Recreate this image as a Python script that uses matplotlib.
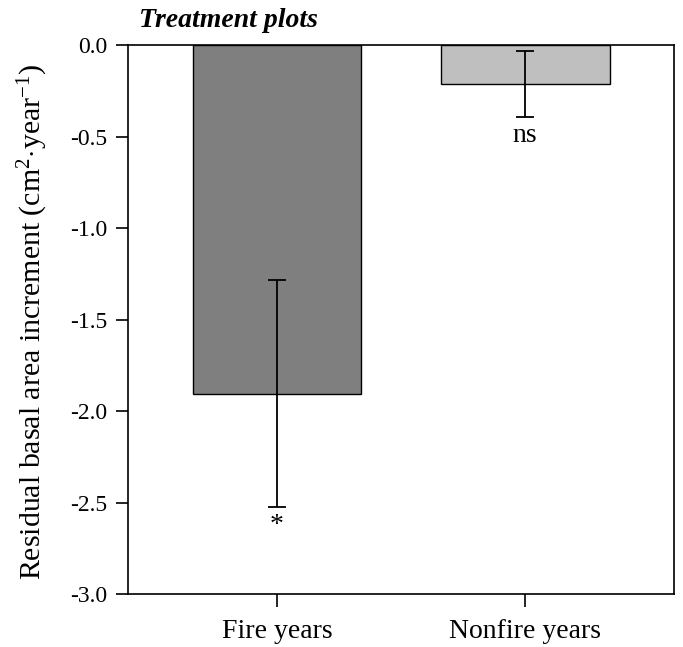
import numpy as np
import matplotlib
matplotlib.use("Agg")
import matplotlib.pyplot as plt

plt.rcParams['font.family'] = ['Liberation Serif', 'DejaVu Serif']
plt.rcParams['mathtext.fontset'] = 'custom'
plt.rcParams['mathtext.rm'] = 'Liberation Serif'
plt.rcParams['mathtext.it'] = 'Liberation Serif:italic'

# data
categories = ["Fire years", "Nonfire years"]
means = [-1.905, -0.21]
errors = [0.62, 0.18]
signif = ["*", "ns"]
colors = ["#7f7f7f", "#bfbfbf"]

fig = plt.figure(figsize=(6.83, 6.47), dpi=100)
ax = fig.add_axes([0.1874, 0.082, 0.7996, 0.848])

x = np.arange(len(categories))
ax.bar(x, means, width=0.68, color=colors, edgecolor="black", linewidth=1.0, zorder=2)
ax.errorbar(x, means, yerr=errors, fmt="none", ecolor="black", elinewidth=1.3,
            capsize=6.5, capthick=1.3, zorder=3)

for xi, m, e, s in zip(x, means, errors, signif):
    ax.text(xi, m - e - 0.035, s, ha="center", va="top", fontsize=20)

ax.set_xlim(-0.6, 1.6)
ax.set_ylim(-3.0, 0.0)
ax.set_yticks(np.arange(-3.0, 0.01, 0.5))
ax.set_yticklabels([f"{v:.1f}" for v in np.arange(-3.0, 0.01, 0.5)])
ax.set_xticks(x)
ax.set_xticklabels(categories)
ax.tick_params(axis="y", direction="out", length=9, width=1.2, labelsize=17, pad=6)
ax.tick_params(axis="x", direction="out", length=9, width=1.2, labelsize=20, pad=9)
for sp in ax.spines.values():
    sp.set_linewidth(1.2)

ax.set_ylabel("Residual basal area increment (cm$^{2}$$\\cdot$year$^{-1}$)", fontsize=21.5)
ax.yaxis.set_label_coords(-0.142, 0.496)
ax.text(0.02, 1.033, "Treatment plots", transform=ax.transAxes, fontsize=20,
        fontweight="bold", fontstyle="italic", ha="left", va="baseline")

fig.savefig("out.png", dpi=100)
